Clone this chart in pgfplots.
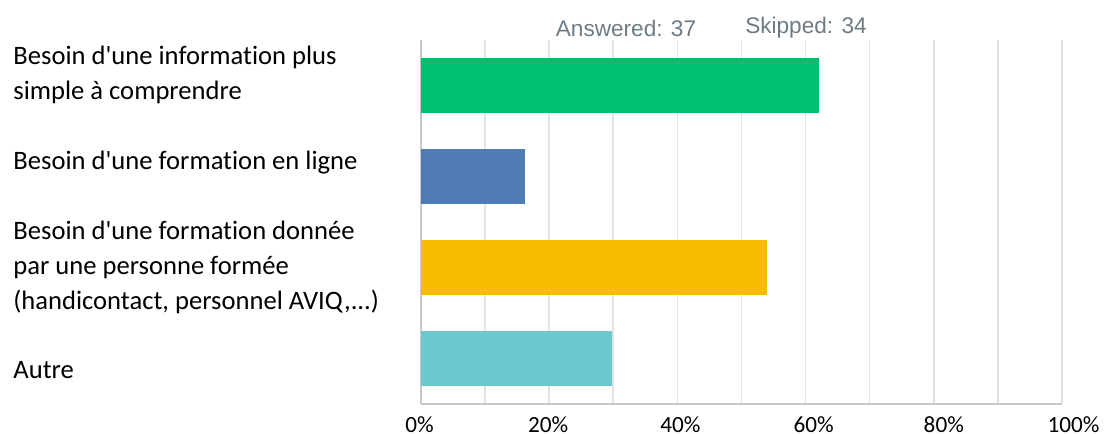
\documentclass[border=0pt]{standalone}
\usepackage{pgfplots}
\pgfplotsset{compat=1.18}
\usepackage{fontspec}
\newfontfamily\calfont{Carlito}[Ligatures={NoCommon}]
\newfontfamily\arialfont{Liberation Sans}
\definecolor{cgreen}{HTML}{00BF6F}
\definecolor{cblue}{HTML}{507CB6}
\definecolor{cyellow}{HTML}{F7BC00}
\definecolor{cteal}{HTML}{6BC8CD}
\definecolor{cgrid}{HTML}{E3E3E3}
\definecolor{caxis}{HTML}{C8C8C8}
\definecolor{chead}{HTML}{6D7B85}
\newcommand\tdots{.{}.{}.}
\begin{document}
\begin{tikzpicture}
\useasboundingbox (0,0) rectangle (552.5pt,217pt);
\begin{axis}[
  at={(210.5pt,15pt)}, anchor=south west,
  scale only axis, width=320.5pt, height=182pt,
  xmin=0, xmax=100, ymin=-0.5, ymax=3.5, y dir=reverse,
  xbar, bar width=27.5pt, bar shift=0pt,
  axis x line*=bottom, axis y line*=left,
  axis line style={caxis, line width=0.8pt, -},
  xtick={0,20,40,60,80,100},
  xticklabels={\hspace*{-1.5pt}0\%,\hspace*{-1pt}20\%,\hspace*{3pt}40\%,\hspace*{8pt}60\%,\hspace*{10pt}80\%,\hspace*{11.5pt}100\%},
  minor x tick num=1,
  xmajorgrids, xminorgrids,
  grid style={cgrid, line width=0.8pt},
  minor grid style={cgrid, line width=0.8pt},
  major tick length=0pt, minor tick length=0pt,
  xticklabel style={font=\calfont\fontsize{11.6}{14}\selectfont, inner sep=0pt, anchor=north, yshift=-6pt},
  ytick={-0.115,0.852,2.0,3.126},
  yticklabels={{Besoin d'une information plus\\simple à comprendre},
               {Besoin d'une formation en ligne},
               {Besoin d'une formation donnée\\par une personne formée\\(handicontact, personnel AVIQ,\tdots)},
               {Autre}},
  yticklabel style={anchor=west, xshift=-204pt, inner sep=0pt, align=left,
                    font=\calfont\fontsize{13.3}{17.5}\selectfont},
  clip=false,
]
\addplot[fill=cgreen, draw=none] coordinates {(62.16,0)};
\addplot[fill=cblue, draw=none] coordinates {(16.22,1)};
\addplot[fill=cyellow, draw=none] coordinates {(54.05,2)};
\addplot[fill=cteal, draw=none] coordinates {(29.73,3)};
\end{axis}
\node[font=\arialfont\fontsize{11.3}{13}\selectfont, text=chead] at (313pt,203pt) {Answered: 37};
\node[font=\arialfont\fontsize{11.3}{13}\selectfont, text=chead] at (403pt,203pt) {Skipped: 34};
\end{tikzpicture}
\end{document}
